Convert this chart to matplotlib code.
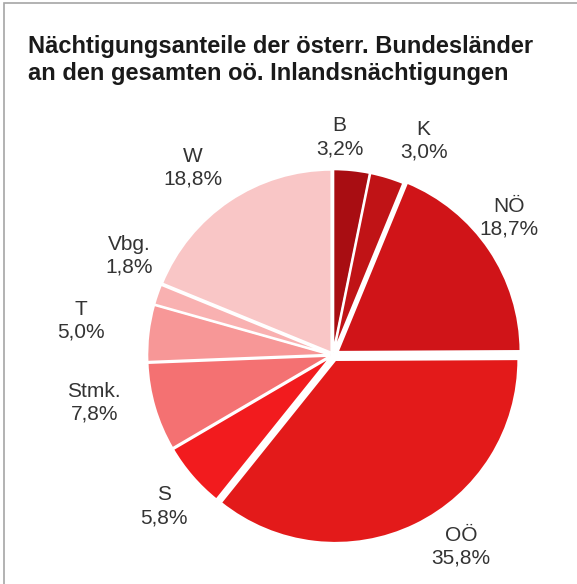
import matplotlib
matplotlib.use("Agg")
import matplotlib.pyplot as plt
import numpy as np
from matplotlib.patches import Rectangle

plt.rcParams['font.family'] = ['Liberation Sans', 'DejaVu Sans']

# Daten
laender = ['B', 'K', 'NÖ', 'OÖ', 'S', 'Stmk.', 'T', 'Vbg.', 'W']
anteile = [3.2, 3.0, 18.7, 35.8, 5.8, 7.8, 5.0, 1.8, 18.8]
farben = ['#a80d12', '#c01316', '#d01418', '#e31a1a', '#f21b1e',
          '#f47172', '#f79797', '#f9b1b1', '#f9c6c6']

# Layout der Beschriftungen (Abstand, Winkelversatz)
label_dist = [1.19, 1.27, 1.22, 1.26, 1.24, 1.33, 1.39, 1.24, 1.28]
label_dang = [4, -6, 4, 8, 1, -5, -1, -7, 3]
explode = [0.015, 0.015, 0.03, 0.03, 0.015, 0.015, 0.015, 0.015, 0.015]

W, H = 577, 584
fig = plt.figure(figsize=(W / 100, H / 100), dpi=100)
ax = fig.add_axes([0, 0, 1, 1])
cx, cy, r = 333, 355, 183

wedges, _ = ax.pie(anteile, colors=farben, startangle=90, counterclock=False,
                   explode=explode, radius=1.0,
                   wedgeprops=dict(edgecolor='white', linewidth=1.5))
ax.set_aspect('auto')
ax.set_xlim(-cx / r, (W - cx) / r)
ax.set_ylim(-(H - cy) / r, cy / r)
ax.axis('off')

for w, lab, val, d, da in zip(wedges, laender, anteile, label_dist, label_dang):
    ang = np.deg2rad((w.theta1 + w.theta2) / 2 + da)
    txt = lab + "\n" + f"{val:.1f}".replace('.', ',') + "%"
    ax.text(d * np.cos(ang), d * np.sin(ang), txt,
            ha='center', va='center', fontsize=15, color='#333333',
            linespacing=1.25)

# Titel
fig.text(28 / W, 1 - 35 / H,
         "Nächtigungsanteile der österr. Bundesländer\nan den gesamten oö. Inlandsnächtigungen",
         ha='left', va='top', fontsize=17, fontweight='bold', color='#1a1a1a',
         linespacing=1.2)

# Rahmen
fig.patches.append(Rectangle((4 / W, -0.1), 1.2, 1 - 3 / H + 0.1,
                             transform=fig.transFigure, fill=False,
                             edgecolor='#a6a6a6', linewidth=1.2))

fig.savefig('out.png', dpi=100)
